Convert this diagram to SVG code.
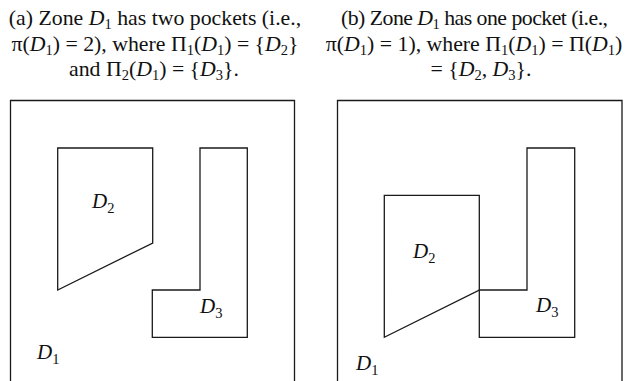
<svg xmlns="http://www.w3.org/2000/svg" width="629" height="381" viewBox="0 0 629 381">
<style>
  .cap { font-family: "Liberation Serif", "Times New Roman", serif; font-size: 21.8px; fill: #111; text-anchor: middle; }
  .lbl { font-family: "Liberation Serif", "Times New Roman", serif; font-size: 21px; fill: #111; }
  .it { font-style: italic; }
  .sub { font-size: 14.5px; font-style: normal; }
  .shape { fill: none; stroke: #1a1a1a; stroke-width: 1.3; stroke-linejoin: miter; }
</style>
<rect width="629" height="381" fill="#fff"/>

<g id="caption-a">
  <text class="cap" x="155" y="25">(a) Zone <tspan class="it">D</tspan><tspan class="sub" dy="4">1</tspan><tspan dy="-4"> has two pockets (i.e.,</tspan></text>
  <text class="cap" x="155" y="51">π(<tspan class="it">D</tspan><tspan class="sub" dy="4">1</tspan><tspan dy="-4">) = 2), where Π</tspan><tspan class="sub" dy="4">1</tspan><tspan dy="-4">(</tspan><tspan class="it">D</tspan><tspan class="sub" dy="4">1</tspan><tspan dy="-4">) = {</tspan><tspan class="it">D</tspan><tspan class="sub" dy="4">2</tspan><tspan dy="-4">}</tspan></text>
  <text class="cap" x="154" y="76">and Π<tspan class="sub" dy="4">2</tspan><tspan dy="-4">(</tspan><tspan class="it">D</tspan><tspan class="sub" dy="4">1</tspan><tspan dy="-4">) = {</tspan><tspan class="it">D</tspan><tspan class="sub" dy="4">3</tspan><tspan dy="-4">}.</tspan></text>
</g>

<g id="caption-b">
  <text class="cap" x="474.5" y="25" textLength="267" lengthAdjust="spacing">(b) Zone <tspan class="it">D</tspan><tspan class="sub" dy="4">1</tspan><tspan dy="-4"> has one pocket (i.e.,</tspan></text>
  <text class="cap" x="474" y="51">π(<tspan class="it">D</tspan><tspan class="sub" dy="4">1</tspan><tspan dy="-4">) = 1), where Π</tspan><tspan class="sub" dy="4">1</tspan><tspan dy="-4">(</tspan><tspan class="it">D</tspan><tspan class="sub" dy="4">1</tspan><tspan dy="-4">) = Π(</tspan><tspan class="it">D</tspan><tspan class="sub" dy="4">1</tspan><tspan dy="-4">)</tspan></text>
  <text class="cap" x="481" y="76">= {<tspan class="it">D</tspan><tspan class="sub" dy="4">2</tspan><tspan dy="-4">, </tspan><tspan class="it">D</tspan><tspan class="sub" dy="4">3</tspan><tspan dy="-4">}.</tspan></text>
</g>

<g id="panel-a">
  <g id="a-D1">
    <polyline class="shape" points="10.5,381 10.5,100.5 294.5,100.5 294.5,381"/>
    <text class="lbl" x="37" y="359"><tspan class="it">D</tspan><tspan class="sub" dy="5">1</tspan></text>
  </g>
  <g id="a-D2">
    <polygon class="shape" points="57.7,148 152.7,148 152.7,243 57.7,290"/>
    <text class="lbl" x="92" y="208"><tspan class="it">D</tspan><tspan class="sub" dy="5">2</tspan></text>
  </g>
  <g id="a-D3">
    <polygon class="shape" points="200,148 247.3,148 247.3,337.3 152.3,337.3 152.3,290 200,290"/>
    <text class="lbl" x="200" y="313"><tspan class="it">D</tspan><tspan class="sub" dy="5">3</tspan></text>
  </g>
</g>

<g id="panel-b">
  <g id="b-D1">
    <polyline class="shape" points="337.5,381 337.5,100.5 622,100.5 622,381"/>
    <text class="lbl" x="356" y="370"><tspan class="it">D</tspan><tspan class="sub" dy="5">1</tspan></text>
  </g>
  <g id="b-D2">
    <polygon class="shape" points="384.3,195.3 479.3,195.3 479.3,290 384.3,337.3"/>
    <text class="lbl" x="413" y="257.5"><tspan class="it">D</tspan><tspan class="sub" dy="5">2</tspan></text>
  </g>
  <g id="b-D3">
    <polygon class="shape" points="527,148 574.7,148 574.7,337.3 479.3,337.3 479.3,290 527,290"/>
    <text class="lbl" x="536" y="311.5"><tspan class="it">D</tspan><tspan class="sub" dy="5">3</tspan></text>
  </g>
</g>

<g id="connectors"></g>
</svg>
